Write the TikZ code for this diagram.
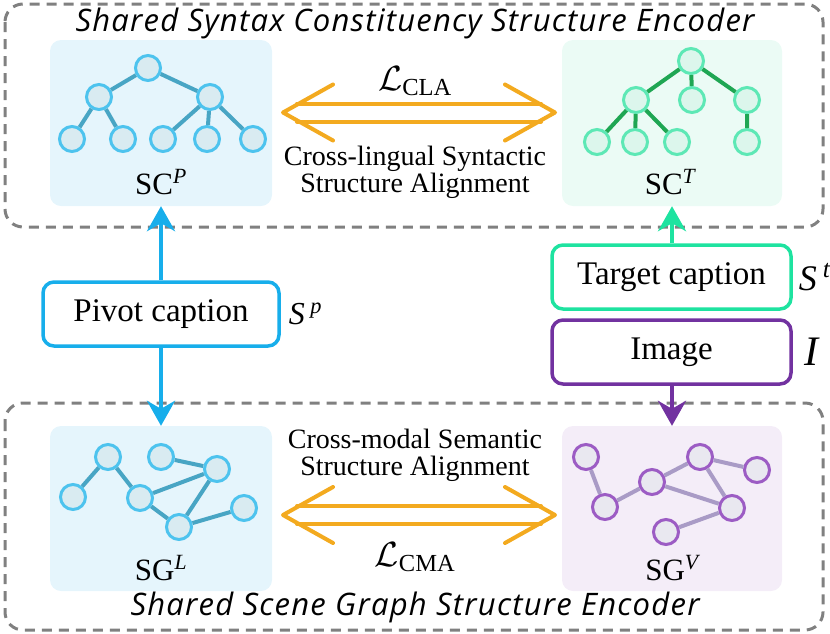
\RequirePackage{fix-cm}
\documentclass[tikz,border=0pt]{standalone}
\usepackage{amsmath}
\usepackage{fontspec}
\setmainfont{Liberation Serif}
\newfontfamily\handfont{Open Sans}[LetterSpace=4]
\usetikzlibrary{arrows.meta,calc,positioning}

\definecolor{dashgray}{HTML}{808080}
\definecolor{scblue}{HTML}{4DC3EE}
\definecolor{scbluefill}{HTML}{D9EBF1}
\definecolor{scblueedge}{HTML}{48A5C4}
\definecolor{scbluepanel}{HTML}{E5F5FC}
\definecolor{scgreen}{HTML}{5DE8B5}
\definecolor{scgreenfill}{HTML}{DCF6EC}
\definecolor{scgreenedge}{HTML}{1FA653}
\definecolor{scgreenpanel}{HTML}{EBFBF5}
\definecolor{sgpurple}{HTML}{9C5CC4}
\definecolor{sgpurplefill}{HTML}{E9E8F0}
\definecolor{sgpurpleedge}{HTML}{A99BC6}
\definecolor{sgpurplepanel}{HTML}{F4EDF8}
\definecolor{alignorange}{HTML}{F3AA1F}
\definecolor{pivotblue}{HTML}{17AEEB}
\definecolor{targetgreen}{HTML}{1EE3A0}
\definecolor{imagepurple}{HTML}{7232A0}

\tikzset{
  encoder/.style={draw=dashgray, dash pattern=on 10pt off 7pt, line width=3pt, rounded corners=18pt},
  panel/.style={rounded corners=11pt, minimum width=222pt, minimum height=166pt, inner sep=0pt},
  tnode/.style={circle, line width=3pt, minimum size=25pt, inner sep=0pt},
  tedge/.style={line width=4pt},
  capbox/.style={draw, fill=white, rounded corners=11pt, line width=3.5pt, minimum width=236pt,
    minimum height=64pt, font=\fontsize{33}{36}\selectfont},
  feed/.style={line width=4pt, -{Stealth[length=25pt, width=28pt, inset=8pt]}},
  alignarrow/.style={alignorange, line width=4pt, line cap=round, line join=round},
  panellabel/.style={font=\fontsize{31}{34}\selectfont},
  alignlabel/.style={align=center, font=\fontsize{28}{27}\selectfont},
  losslabel/.style={font=\fontsize{35}{36}\selectfont},
  inputlabel/.style={inner sep=0pt, font=\fontsize{36}{38}\selectfont\itshape},
  title/.style={font=\handfont\itshape\fontsize{31}{34}\selectfont}
}

\begin{document}
\begin{tikzpicture}[x=1pt, y=-1pt]
      \useasboundingbox (0,0) rectangle (830,633);

      % encoders
      \draw [encoder] (5,4) rectangle (823,227);
      \draw [encoder] (5,403) rectangle (823,630);
      \node [title, name=syntaxtitle] at (415,23) {Shared Syntax Constituency Structure Encoder};
      \node [title, name=scenetitle] at (415,607) {Shared Scene Graph Structure Encoder};

      % panels
      \node [panel, fill=scbluepanel, name=scp] at (161,123) {};
      \node [panel, fill=scgreenpanel, minimum width=220pt, name=sct] at (672,123) {};
      \node [panel, fill=scbluepanel, minimum height=165pt, name=sgl] at (161,508.5) {};
      \node [panel, fill=sgpurplepanel, minimum width=220pt, minimum height=165pt, name=sgv] at (672,508.5) {};

      % pivot syntax tree
      \begin{scope}[every node/.style={tnode, draw=scblue, fill=scbluefill}]
        \node [name=p0] at (148,68) {};
        \node [name=p1] at (99,97) {};
        \node [name=p2] at (210,97) {};
        \node [name=p3] at (72,139) {};
        \node [name=p4] at (123,139) {};
        \node [name=p5] at (163,139) {};
        \node [name=p6] at (207,139) {};
        \node [name=p7] at (253,139) {};
      \end{scope}
      \draw [tedge, scblueedge] (p0) -- (p1) (p0) -- (p2) (p1) -- (p3) (p1) -- (p4)
        (p2) -- (p5) (p2) -- (p6) (p2) -- (p7);
      \node [panellabel, name=scplabel] at (161,182) {SC$^{\textit{P}}$};

      % target syntax tree
      \begin{scope}[every node/.style={tnode, draw=scgreen, fill=scgreenfill}]
        \node [name=t0] at (691,61) {};
        \node [name=t1] at (636,100) {};
        \node [name=t2] at (692,100) {};
        \node [name=t3] at (747,100) {};
        \node [name=t4] at (597,142) {};
        \node [name=t5] at (635,142) {};
        \node [name=t6] at (677,142) {};
        \node [name=t7] at (747,142) {};
      \end{scope}
      \draw [tedge, scgreenedge] (t0) -- (t1) (t0) -- (t2) (t0) -- (t3) (t1) -- (t4)
        (t1) -- (t5) (t1) -- (t6) (t3) -- (t7);
      \node [panellabel, name=sctlabel] at (670,182) {SC$^{\textit{T}}$};

      % language scene graph
      \begin{scope}[every node/.style={tnode, draw=scblue, fill=scbluefill}]
        \node [name=l1] at (73,497) {};
        \node [name=l2] at (108,457) {};
        \node [name=l3] at (161,457) {};
        \node [name=l4] at (217,469) {};
        \node [name=l5] at (140,498) {};
        \node [name=l6] at (179,527) {};
        \node [name=l7] at (244,508) {};
      \end{scope}
      \draw [tedge, scblueedge] (l1) -- (l2) (l2) -- (l5) (l5) -- (l4) (l5) -- (l6)
        (l4) -- (l6) (l6) -- (l7) (l3) -- (l4);
      \node [panellabel, name=sgllabel] at (161,568) {SG$^{\textit{L}}$};

      % visual scene graph
      \begin{scope}[every node/.style={tnode, draw=sgpurple, fill=sgpurplefill}]
        \node [name=v1] at (586,457) {};
        \node [name=v2] at (605,507) {};
        \node [name=v3] at (652,482) {};
        \node [name=v4] at (700,457) {};
        \node [name=v5] at (757,470) {};
        \node [name=v6] at (732,508) {};
        \node [name=v7] at (666,532) {};
      \end{scope}
      \draw [tedge, sgpurpleedge] (v1) -- (v2) (v2) -- (v3) (v3) -- (v4) (v4) -- (v5)
        (v4) -- (v6) (v3) -- (v6) (v6) -- (v7);
      \node [panellabel, name=sgvlabel] at (672,568) {SG$^{\textit{V}}$};

      % alignment arrows
      \coordinate (clal) at (283,112.5);
      \coordinate (clar) at (555,112.5);
      \draw [alignarrow] ($(clal)+(50,-28)$) -- (clal) -- ($(clal)+(50,28)$);
      \draw [alignarrow] ($(clar)+(-50,-28)$) -- (clar) -- ($(clar)+(-50,28)$);
      \draw [alignarrow] ($(clal)+(14,-9)$) -- ($(clar)+(-14,-9)$);
      \draw [alignarrow] ($(clal)+(14,9)$) -- ($(clar)+(-14,9)$);
      \node [losslabel, name=cla] at (415,81) {$\mathcal{L}_{\text{CLA}}$};
      \node [alignlabel, name=clatext] at (415,172) {Cross-lingual Syntactic\\Structure Alignment};

      \coordinate (cmal) at (283,515);
      \coordinate (cmar) at (555,515);
      \draw [alignarrow] ($(cmal)+(50,-28)$) -- (cmal) -- ($(cmal)+(50,28)$);
      \draw [alignarrow] ($(cmar)+(-50,-28)$) -- (cmar) -- ($(cmar)+(-50,28)$);
      \draw [alignarrow] ($(cmal)+(14,-9)$) -- ($(cmar)+(-14,-9)$);
      \draw [alignarrow] ($(cmal)+(14,9)$) -- ($(cmar)+(-14,9)$);
      \node [alignlabel, name=cmatext] at (415,455) {Cross-modal Semantic\\Structure Alignment};
      \node [losslabel, name=cma] at (415,557) {$\mathcal{L}_{\text{CMA}}$};

      % inputs
      \node [capbox, draw=pivotblue, name=pivot] at (161,314) {Pivot caption};
      \node [inputlabel, right=8pt of pivot, font=\fontsize{32}{34}\selectfont\itshape, name=sp] {S\,$^{\textit{p}}$};
      \node [capbox, draw=targetgreen, minimum width=239pt, name=target] at (671.5,277) {Target caption};
      \node [inputlabel, right=6pt of target, name=st] {S\,$^{\textit{t}}$};
      \node [capbox, draw=imagepurple, minimum width=239pt, name=image] at (671.5,352) {Image};
      \node [inputlabel, right=12pt of image, font=\fontsize{42}{44}\selectfont\itshape, name=iv] {I};

      \draw [feed, pivotblue] (pivot) -- (scp);
      \draw [feed, pivotblue] (pivot) -- (sgl);
      \draw [feed, targetgreen] (target.north -| sct.south) -- (sct.south);
      \draw [feed, imagepurple] (image.south -| sgv.north) -- (sgv.north);
\end{tikzpicture}
\end{document}
